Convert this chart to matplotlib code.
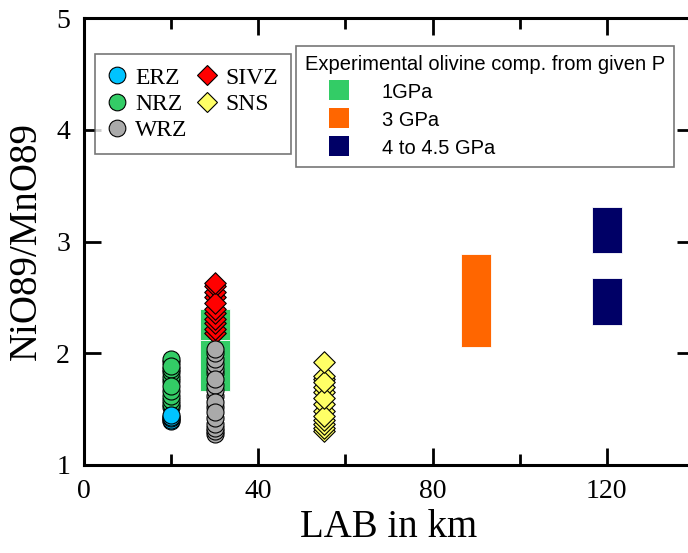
import matplotlib
matplotlib.use("Agg")
import matplotlib.pyplot as plt
from matplotlib.lines import Line2D

# NiO89/MnO89 of olivine by rift zone, plotted at the LAB depth (km)
erz_x, erz_y = 20, [1.39, 1.40, 1.42, 1.43, 1.45]
nrz_x, nrz_y = 20, [1.52, 1.55, 1.58, 1.62, 1.66, 1.75, 1.79, 1.83, 1.86, 1.92, 1.95, 1.89, 1.71]
wrz_x, wrz_y = 30, [1.28, 1.30, 1.33, 1.37, 1.42, 1.52, 1.62, 1.67, 1.72, 1.82,
                    1.86, 1.90, 1.95, 2.00, 1.56, 1.47, 1.77, 2.04]
sivz_x, sivz_y = 30, [2.18, 2.22, 2.27, 2.31, 2.36, 2.40, 2.50, 2.55, 2.60, 2.45, 2.63]
sns_x, sns_y = 55, [1.30, 1.33, 1.37, 1.40, 1.48, 1.55, 1.65, 1.70, 1.77, 1.80,
                    1.44, 1.60, 1.74, 1.92]

# Experimental olivine ranges (depth, lower and upper ratio)
gpa1_x, gpa1_low, gpa1_high = [30, 30], [1.66, 2.12], [2.12, 2.40]
gpa3_x, gpa3_low, gpa3_high = [90], [2.06], [2.89]
gpa4_x, gpa4_low, gpa4_high = [120, 120], [2.25, 2.90], [2.67, 3.31]

x_ticks = [0, 40, 80, 120]
y_ticks = [1, 2, 3, 4, 5]

serif = "Liberation Serif"
sans = "Liberation Sans"

c_erz, c_nrz, c_wrz, c_sivz, c_sns = "#00C3FF", "#33CC66", "#AAAAAA", "#FF0000", "#FFFF66"
c_1, c_3, c_4 = "#33CC66", "#FF6600", "#000066"

fig = plt.figure(figsize=(6.88, 5.53), dpi=100)
ax = fig.add_axes([84 / 688, 88 / 553, 610 / 688, 447 / 553])

bw = 6.8
for xs, lo, hi, col in [(gpa1_x, gpa1_low, gpa1_high, c_1),
                        (gpa3_x, gpa3_low, gpa3_high, c_3),
                        (gpa4_x, gpa4_low, gpa4_high, c_4)]:
    ax.bar(xs, [h - l for l, h in zip(lo, hi)], bottom=lo, width=bw,
           color=col, edgecolor="white", linewidth=0.6, zorder=1)

circ = dict(marker="o", s=150, edgecolors="black", linewidths=0.8, zorder=3)
diam = dict(marker="D", s=120, edgecolors="black", linewidths=0.8, zorder=3)
ax.scatter([nrz_x] * len(nrz_y), nrz_y, color=c_nrz, **circ)
ax.scatter([erz_x] * len(erz_y), erz_y, color=c_erz, **circ)
ax.scatter([sivz_x] * len(sivz_y), sivz_y, color=c_sivz, **diam)
ax.scatter([wrz_x] * len(wrz_y), wrz_y, color=c_wrz, **circ)
ax.scatter([sns_x] * len(sns_y), sns_y, color=c_sns, **diam)

ax.set_xlim(0, 140)
ax.set_ylim(1, 5)
ax.set_xticks(x_ticks)
ax.set_xticks([20, 60, 100], minor=True)
ax.set_yticks(y_ticks)
ax.tick_params(which="both", direction="in", top=True, right=True, width=2)
ax.tick_params(which="major", length=12, labelsize=20, pad=10)
ax.tick_params(which="minor", length=8)
for lab in ax.get_xticklabels() + ax.get_yticklabels():
    lab.set_fontfamily(serif)
for sp in ax.spines.values():
    sp.set_linewidth(2.2)

ax.set_xlabel("LAB in km", fontsize=28, family=serif, labelpad=4)
ax.set_ylabel("NiO89/MnO89", fontsize=28, family=serif, labelpad=8)

def mk(m, col, ms, ew=0.8):
    return Line2D([], [], linestyle="none", marker=m, markerfacecolor=col,
                  markeredgecolor="black", markeredgewidth=ew, markersize=ms)

h1 = [mk("o", c_erz, 12), mk("o", c_nrz, 12), mk("o", c_wrz, 12),
      mk("D", c_sivz, 10), mk("D", c_sns, 10)]
l1 = ["ERZ", "NRZ", "WRZ", "SIVZ", "SNS"]
leg1 = ax.legend(h1, l1, ncol=2, loc="upper left", bbox_to_anchor=(11 / 610, 1 - 36 / 447),
                 prop={"family": serif, "size": 17}, frameon=True, fancybox=False,
                 edgecolor="#555555", borderpad=0.55, labelspacing=0.2,
                 handletextpad=0.4, columnspacing=0.45, handlelength=0.75,
                 borderaxespad=0)
leg1.get_frame().set_linewidth(1.2)
ax.add_artist(leg1)

h2 = [Line2D([], [], linestyle="none", marker="s", markersize=14.4,
             markerfacecolor=c, markeredgewidth=0) for c in (c_1, c_3, c_4)]
l2 = ["1GPa", "3 GPa", "4 to 4.5 GPa"]
leg2 = ax.legend(h2, l2, loc="upper left", bbox_to_anchor=(212 / 610, 1 - 28 / 447),
                 title="Experimental olivine comp. from given P",
                 title_fontproperties={"family": sans, "size": 14.5},
                 prop={"family": sans, "size": 14.5}, alignment="left",
                 frameon=True, fancybox=False, edgecolor="#555555",
                 borderpad=0.45, labelspacing=0.4, handlelength=3.4,
                 handleheight=1.0, handletextpad=0.4, borderaxespad=0)
leg2.get_frame().set_linewidth(1.2)
leg2._legend_box.sep = 6

fig.savefig("out.png", dpi=100)
